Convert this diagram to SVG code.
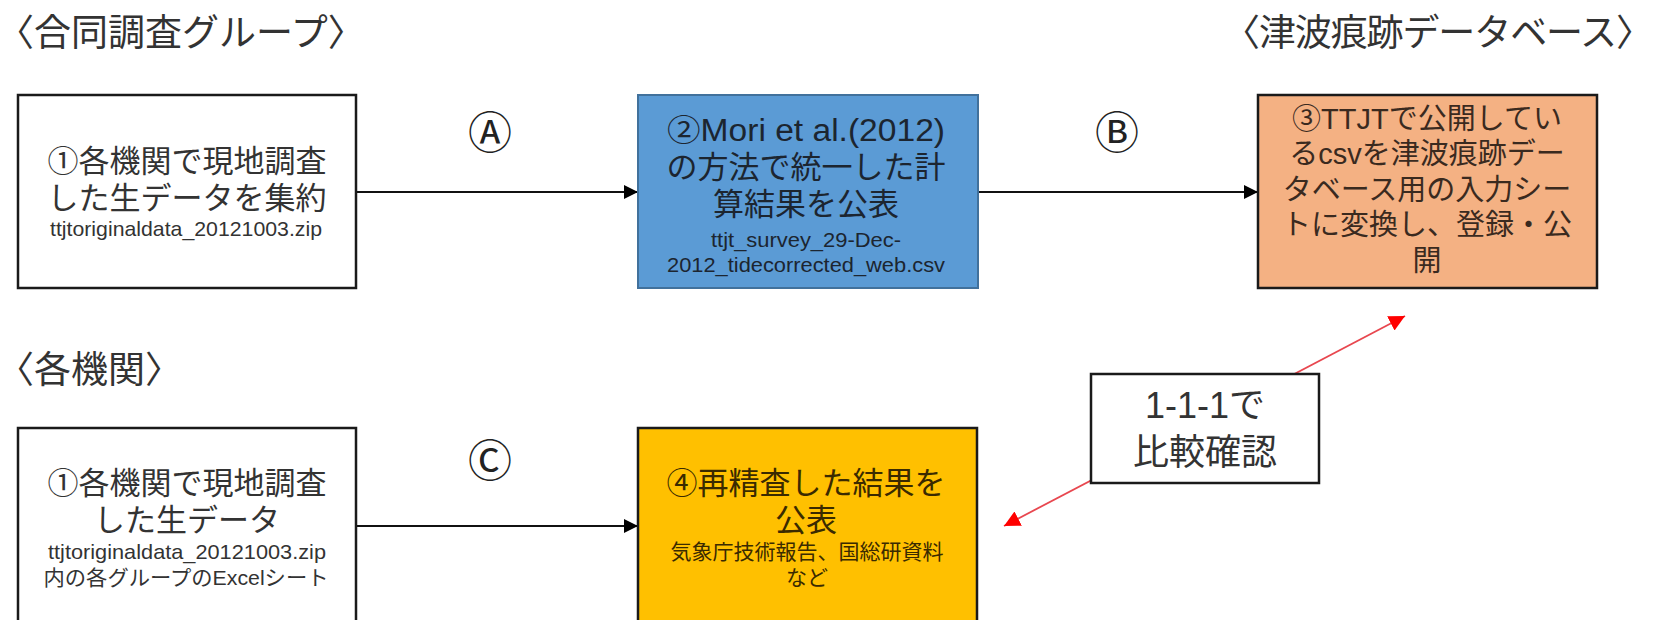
<svg xmlns="http://www.w3.org/2000/svg" width="1653" height="620" viewBox="0 0 1653 620">
<style>
text{font-family:"Liberation Sans","Noto Sans CJK JP",sans-serif;fill:#333;text-anchor:middle}
.title{font-size:37px;text-anchor:start;fill:#333}
.big{font-size:31px}
.mid{font-size:29px}
.sm{font-size:21px}
.lab{font-size:36px}
.circ{font-size:44px;fill:#222}
.box{stroke:#1a1a1a;stroke-width:2.5}
.conn{stroke:#111;stroke-width:1.8;fill:none}
.red{stroke:#e8474f;stroke-width:1.8;fill:none}
</style>
<defs>
<marker id="ah" viewBox="0 0 10 10" refX="10" refY="5" markerWidth="14" markerHeight="14" markerUnits="userSpaceOnUse" orient="auto"><path d="M0,0 L10,5 L0,10 z" fill="#000"/></marker>
<marker id="rh" viewBox="0 0 10 10" refX="10" refY="5" markerWidth="16" markerHeight="16" markerUnits="userSpaceOnUse" orient="auto-start-reverse"><path d="M0,0 L10,5 L0,10 z" fill="#ff0000"/></marker>
</defs>
<rect width="1653" height="620" fill="#fff"/>

<g id="titles">
<text class="title" x="-3" y="46">〈合同調査グループ〉</text>
<text class="title" x="1223" y="46" textLength="430" lengthAdjust="spacing">〈津波痕跡データベース〉</text>
<text class="title" x="-3" y="383">〈各機関〉</text>
</g>

<g id="connectors">
<line class="conn" x1="357" y1="192" x2="638" y2="192" marker-end="url(#ah)"/>
<line class="conn" x1="978" y1="192" x2="1258" y2="192" marker-end="url(#ah)"/>
<line class="conn" x1="357" y1="526" x2="638" y2="526" marker-end="url(#ah)"/>
<line class="red" x1="1004" y1="526" x2="1405" y2="316" marker-start="url(#rh)" marker-end="url(#rh)"/>
<text class="circ" x="490" y="149">Ⓐ</text>
<text class="circ" x="1117" y="149">Ⓑ</text>
<text class="circ" x="490" y="477">Ⓒ</text>
</g>

<g id="node1">
<rect class="box" x="18" y="95" width="338" height="193" fill="#fff"/>
<text class="big" x="187" y="172">①各機関で現地調査</text>
<text class="big" x="187" y="209">した生データを集約</text>
<text class="sm" x="186" y="236" textLength="272" lengthAdjust="spacingAndGlyphs">ttjtoriginaldata_20121003.zip</text>
</g>

<g id="node2">
<rect x="638" y="95" width="340" height="193" fill="#5b9bd5" stroke="#41719c" stroke-width="2"/>
<text class="big" x="806" y="141" textLength="278" lengthAdjust="spacingAndGlyphs" style="fill:#1c2530">②Mori et al.(2012)</text>
<text class="big" x="806" y="178" style="fill:#1c2530">の方法で統一した計</text>
<text class="big" x="806" y="215" style="fill:#1c2530">算結果を公表</text>
<text class="sm" x="806" y="247" textLength="190" lengthAdjust="spacingAndGlyphs" style="fill:#1c2530">ttjt_survey_29-Dec-</text>
<text class="sm" x="806" y="272" textLength="278" lengthAdjust="spacingAndGlyphs" style="fill:#1c2530">2012_tidecorrected_web.csv</text>
</g>

<g id="node3">
<rect class="box" x="1258" y="95" width="339" height="193" fill="#f4b183"/>
<text class="mid" x="1427" y="129" style="fill:#3a2a1f">③TTJTで公開してい</text>
<text class="mid" x="1427" y="164" style="fill:#3a2a1f">るcsvを津波痕跡デー</text>
<text class="mid" x="1427" y="200" style="fill:#3a2a1f">タベース用の入力シー</text>
<text class="mid" x="1427" y="235" style="fill:#3a2a1f">トに変換し、登録・公</text>
<text class="mid" x="1427" y="271" style="fill:#3a2a1f">開</text>
</g>

<g id="node4">
<rect class="box" x="18" y="428" width="338" height="200" fill="#fff"/>
<text class="big" x="187" y="494">①各機関で現地調査</text>
<text class="big" x="187" y="531">した生データ</text>
<text class="sm" x="187" y="559" textLength="278" lengthAdjust="spacingAndGlyphs">ttjtoriginaldata_20121003.zip</text>
<text class="sm" x="186" y="585" textLength="285" lengthAdjust="spacingAndGlyphs">内の各グループのExcelシート</text>
</g>

<g id="node5">
<rect class="box" x="638" y="428" width="339" height="200" fill="#ffc000"/>
<text class="big" x="806" y="494" style="fill:#3a2a00">④再精査した結果を</text>
<text class="big" x="806" y="531" style="fill:#3a2a00">公表</text>
<text class="sm" x="807" y="559" style="fill:#3a2a00">気象庁技術報告、国総研資料</text>
<text class="sm" x="807" y="585" style="fill:#3a2a00">など</text>
</g>

<g id="node6">
<rect class="box" x="1091" y="374" width="228" height="109" fill="#fff"/>
<text class="lab" x="1205" y="418">1-1-1で</text>
<text class="lab" x="1205" y="465">比較確認</text>
</g>
</svg>
